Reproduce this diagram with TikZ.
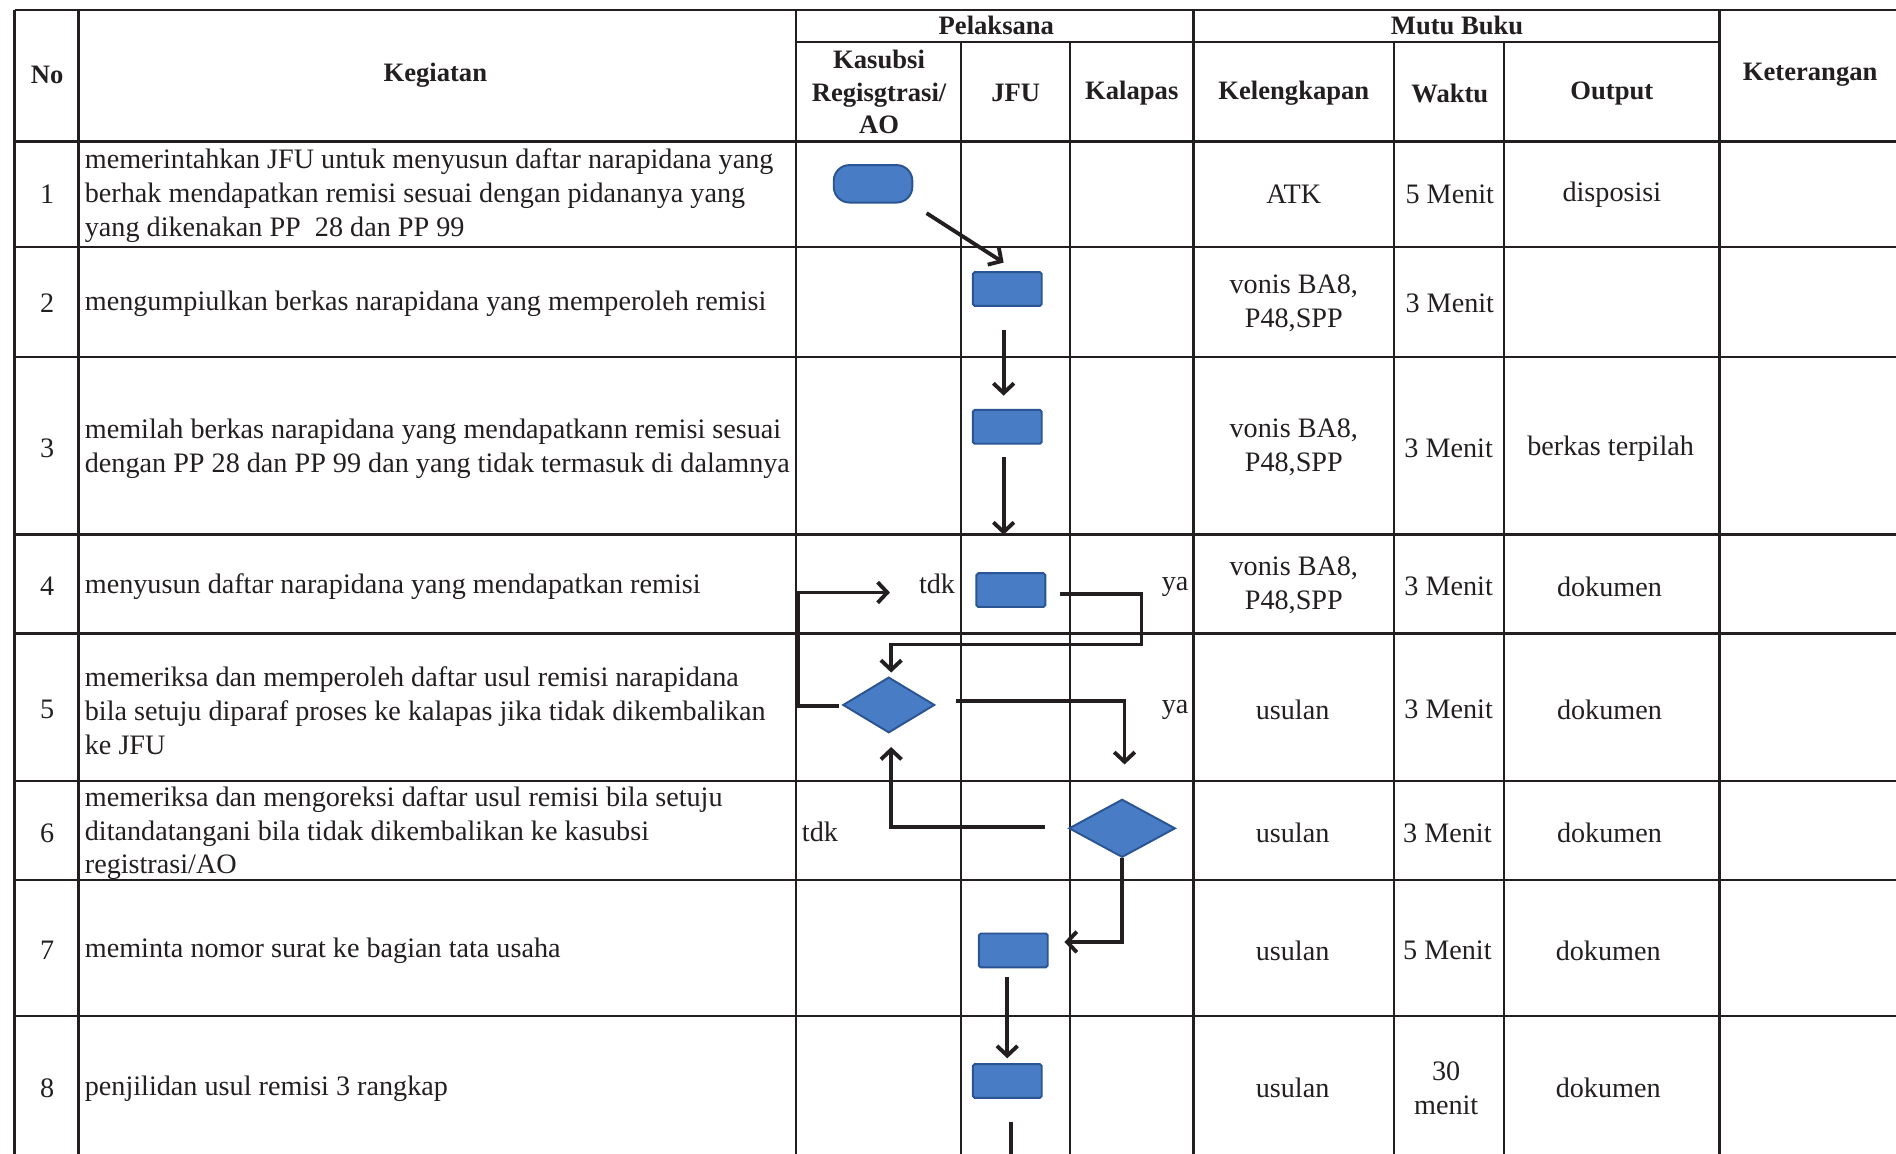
\documentclass[tikz,border=0pt]{standalone}
\usepackage{fontspec}
\setmainfont{Liberation Serif}
\usetikzlibrary{arrows.meta,calc,shapes.geometric}

\definecolor{flowblue}{RGB}{72,124,196}
\definecolor{flowedge}{RGB}{42,84,146}
\definecolor{ink}{RGB}{35,31,32}

\tikzset{
	grid/.style={line width=1.9pt, color=ink},
	head/.style={font=\bfseries\fontsize{22}{27}\selectfont, text=ink, align=center},
	txt/.style={font=\fontsize{23.3}{28}\selectfont, text=ink},
	cell/.style={txt, align=center},
	act/.style={txt, anchor=west, align=left, inner sep=0pt},
	proc/.style={rectangle, fill=flowblue, draw=flowedge, line width=1.6pt, minimum width=57pt, minimum height=28pt, inner sep=0pt, rounded corners=1.5pt},
	term/.style={proc, minimum width=65pt, minimum height=31pt, rounded corners=13pt},
	decision/.style={diamond, fill=flowblue, draw=flowedge, line width=1.6pt, inner sep=0pt, minimum width=76pt, minimum height=46pt},
	flow/.style={line width=3.2pt, color=ink, -{Straight Barb[length=8pt,width=17pt]}},
	flowline/.style={line width=3.2pt, color=ink}
}

\begin{document}
\begin{tikzpicture}[x=1pt, y=-1pt]
			%%%%% START %%%%%
			\useasboundingbox (0,0) rectangle (1568,954);
			
			% table frame
			\draw[grid] (12,8) -- (1575,8);
			\draw[grid] (658,35) -- (1422,35);
			\foreach \y in {117,204,295,442,524,646,728,840}
				\draw[grid] (12,\y) -- (1575,\y);
			\foreach \x in {12,65,658,987,1422}
				\draw[grid] (\x,8) -- (\x,960);
			\foreach \x in {795,885,1153,1244}
				\draw[grid] (\x,35) -- (\x,960);
			
			% header
			\node[head] (hno) at (39,62) {No};
			\node[head] (hkeg) at (360,62) {Kegiatan};
			\node[head] (hpel) at (824,21) {Pelaksana};
			\node[head] (hmutu) at (1205,21) {Mutu Buku};
			\node[head] (hkas) at (727,76) {Kasubsi\\Regisgtrasi/\\AO};
			\node[head] (hjfu) at (840,77) {JFU};
			\node[head] (hkal) at (936,77) {Kalapas};
			\node[head] (hkel) at (1070,77) {Kelengkapan};
			\node[head] (hwak) at (1199,77) {Waktu};
			\node[head] (hout) at (1333,77) {Output};
			\node[head] (hket) at (1497,62) {Keterangan};
			
			% row numbers
			\foreach \n/\y in {1/161,2/251,3/371,4/485,5/587,6/689,7/786,8/900}
				\node[cell] (no\n) at (39,\y) {\n};
			
			% kegiatan
			\node[act] (keg1) at (70,162) {memerintahkan JFU untuk menyusun daftar narapidana yang\\berhak mendapatkan remisi sesuai dengan pidananya yang\\yang dikenakan PP\ \ 28 dan PP 99};
			\node[act] (keg2) at (70,251) {mengumpiulkan berkas narapidana yang memperoleh remisi};
			\node[act] (keg3) at (70,371) {memilah berkas narapidana yang mendapatkann remisi sesuai\\dengan PP 28 dan PP 99 dan yang tidak termasuk di dalamnya};
			\node[act] (keg4) at (70,485) {menyusun daftar narapidana yang mendapatkan remisi};
			\node[act] (keg5) at (70,588) {memeriksa dan memperoleh daftar usul remisi narapidana\\bila setuju diparaf proses ke kalapas jika tidak dikembalikan\\ke JFU};
			\node[act] (keg6) at (70,689) {memeriksa dan mengoreksi daftar usul remisi bila setuju\\ditandatangani bila tidak dikembalikan ke kasubsi\\registrasi/AO};
			\node[act] (keg7) at (70,786) {meminta nomor surat ke bagian tata usaha};
			\node[act] (keg8) at (70,900) {penjilidan usul remisi 3 rangkap};
			
			% kelengkapan
			\node[cell] (kel1) at (1070,161) {ATK};
			\node[cell] (kel2) at (1070,251) {vonis BA8,\\P48,SPP};
			\node[cell] (kel3) at (1070,370) {vonis BA8,\\P48,SPP};
			\node[cell] (kel4) at (1070,484) {vonis BA8,\\P48,SPP};
			\node[cell] (kel5) at (1069,587) {usulan};
			\node[cell] (kel6) at (1069,689) {usulan};
			\node[cell] (kel7) at (1069,786) {usulan};
			\node[cell] (kel8) at (1069,900) {usulan};
			
			% waktu
			\node[cell] (wak1) at (1199,161) {5 Menit};
			\node[cell] (wak2) at (1199,251) {3 Menit};
			\node[cell] (wak3) at (1198,371) {3 Menit};
			\node[cell] (wak4) at (1198,485) {3 Menit};
			\node[cell] (wak5) at (1198,587) {3 Menit};
			\node[cell] (wak6) at (1197,689) {3 Menit};
			\node[cell] (wak7) at (1197,786) {5 Menit};
			\node[cell] (wak8) at (1196,900) {30\\menit};
			
			% output
			\node[cell] (out1) at (1333,161) {disposisi};
			\node[cell] (out3) at (1332,371) {berkas terpilah};
			\node[cell] (out4) at (1331,485) {dokumen};
			\node[cell] (out5) at (1331,587) {dokumen};
			\node[cell] (out6) at (1331,689) {dokumen};
			\node[cell] (out7) at (1330,786) {dokumen};
			\node[cell] (out8) at (1330,900) {dokumen};
			
			% flow symbols
			\node[term] (t1) at (722,152) {};
			\node[proc] (p2) at (833,239) {};
			\node[proc] (p3) at (833,353) {};
			\node[proc] (p4) at (836,488) {};
			\node[decision] (d5) at (735,583) {};
			\node[decision, minimum width=88pt, minimum height=48pt] (d6) at (928,685) {};
			\node[proc] (p7) at (838,786) {};
			\node[proc] (p8) at (833,894) {};
			
			% branch labels
			\node[cell, anchor=east, inner sep=0pt] (tdk4) at (790,483) {tdk};
			\node[cell, anchor=east, inner sep=0pt] (ya4) at (983,485) {ya};
			\node[cell, anchor=east, inner sep=0pt] (ya5) at (983,587) {ya};
			\node[cell, anchor=west, inner sep=0pt] (tdk6) at (663,688) {tdk};
			
			% bends and loose ends
			\coordinate (yabend) at (944,533);
			\coordinate (tdkbend) at (660,490);
			\coordinate (tdkend) at (736,490);
			\coordinate (down8) at (836,962);
			
			% connectors
			\draw[flow] ($(t1.south east)+(11,8)$) -- ($(p2.north)+(-3,-7)$);
			\draw[flow, shorten <=19pt, shorten >=11pt] ($(p2.south)+(-3,0)$) -- ($(p3.north)+(-3,0)$);
			\draw[flow, shorten <=10pt, shorten >=31pt] ($(p3.south)+(-3,0)$) -- ($(p4.north)+(-6,0)$);
			\draw[flow, shorten >=3pt] ($(p4.east)+(11,3)$) -| (yabend) -| ($(d5.north)+(2,0)$);
			\draw[flow] ($(d5.west)+(-2,1)$) -| (tdkbend) -- (tdkend);
			\draw[flow, shorten >=28pt] ($(d5.east)+(17,-3)$) -| ($(d6.north)+(2,0)$);
			\draw[flow, shorten >=11pt] ($(d6.west)+(-19,-1)$) -| ($(d5.south)+(2,0)$);
			\draw[flow] (d6.south) |- ($(p7.east)+(13,-7)$);
			\draw[flow, shorten <=7pt, shorten >=4pt] ($(p7.south)+(-5,0)$) -- (p8.north);
			\draw[flowline] ($(p8.south)+(3,19)$) -- (down8);
			
			%%%%% END %%%%%
\end{tikzpicture}
\end{document}
